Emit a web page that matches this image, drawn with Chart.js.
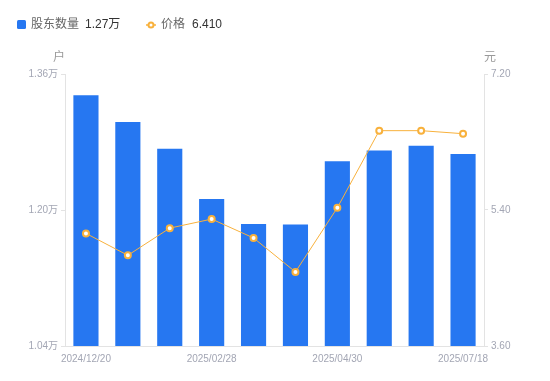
<!DOCTYPE html>
<html>
<head>
<meta charset="utf-8">
<script src="https://cdn.jsdelivr.net/npm/chart.js@4"></script>
<style>
  html, body { margin: 0; padding: 0; background: #fff; }
  #wrap { width: 550px; height: 381px; }
</style>
</head>
<body>
<div id="wrap"><canvas id="chart" width="550" height="381"></canvas></div>
<script>
const labels = ["2024/12/20", "2024/12/31", "2025/01/24", "2025/02/28", "2025/03/20",
  "2025/03/31", "2025/04/30", "2025/05/30", "2025/06/30", "2025/07/18"];
const holders = [1.335, 1.3035, 1.272, 1.213, 1.1835, 1.183, 1.2575, 1.270, 1.2755, 1.266];
const prices = [5.09, 4.80, 5.16, 5.28, 5.03, 4.58, 5.43, 6.45, 6.45, 6.41];
const leftTicks = [1.04, 1.20, 1.36];
const rightTicks = [3.60, 5.40, 7.20];

const FONT = "'Liberation Sans', 'Noto Sans CJK SC', sans-serif";
const barColor = "#2677f1";
const lineColor = "#f8b13c";
const tickColor = "#a3a6b4";
const axisColor = "#e3e3e3";

const ctx = document.querySelector("#chart").getContext("2d");

// legend + axis units drawn by hand
const extras = {
  id: "extras",
  afterDraw(chart) {
    const c = chart.ctx;
    c.save();
    c.textBaseline = "middle";
    c.font = "12px " + FONT;
    // bar legend
    c.fillStyle = barColor;
    c.beginPath();
    c.roundRect(17, 20, 9, 9, 1.5);
    c.fill();
    c.fillStyle = "#666";
    c.fillText("股东数量", 31, 25);
    c.fillStyle = "#333";
    c.fillText(holders[holders.length - 1].toFixed(2) + "万", 85, 25);
    // line legend
    c.strokeStyle = lineColor;
    c.lineWidth = 1.5;
    c.beginPath();
    c.moveTo(146, 25);
    c.lineTo(156, 25);
    c.stroke();
    c.fillStyle = "#fff";
    c.lineWidth = 2;
    c.beginPath();
    c.arc(151, 25, 2.5, 0, Math.PI * 2);
    c.fill();
    c.stroke();
    c.fillStyle = "#666";
    c.fillText("价格", 161, 25);
    c.fillStyle = "#333";
    c.fillText(prices[prices.length - 1].toFixed(3), 192, 25);
    // units
    c.fillStyle = "#999";
    c.textAlign = "center";
    c.fillText("户", chart.chartArea.left - 6, 58);
    c.fillText("元", chart.chartArea.right + 6, 58);
    c.restore();
  },
};

const config = {
  data: {
    labels: labels,
    datasets: [
      {
        type: "line",
        data: prices,
        yAxisID: "y1",
        borderColor: lineColor,
        borderWidth: 1,
        pointBackgroundColor: "#fff",
        pointBorderColor: lineColor,
        pointBorderWidth: 2,
        pointRadius: 3,
        tension: 0,
        order: 0,
      },
      {
        type: "bar",
        data: holders,
        yAxisID: "y",
        backgroundColor: barColor,
        barPercentage: 0.6,
        categoryPercentage: 1,
        order: 1,
      },
    ],
  },
  options: {
    responsive: false,
    animation: false,
    layout: { padding: { top: 74, left: 0, right: 0, bottom: 0 } },
    plugins: {
      legend: { display: false },
      tooltip: { enabled: false },
    },
    scales: {
      x: {
        grid: { display: false, drawTicks: false },
        border: { display: true, color: axisColor },
        ticks: {
          autoSkip: false,
          maxRotation: 0,
          padding: 7,
          color: tickColor,
          font: { size: 10, family: FONT },
          callback: (v, i) => (i % 3 === 0 ? labels[i] : ""),
        },
        afterFit: (scale) => { scale.height = 35; },
      },
      y: {
        position: "left",
        min: leftTicks[0],
        max: leftTicks[leftTicks.length - 1],
        afterBuildTicks: (scale) => { scale.ticks = leftTicks.map((v) => ({ value: v })); },
        grid: { drawOnChartArea: false, tickLength: 4, color: axisColor },
        border: { display: true, color: axisColor },
        ticks: {
          padding: 3,
          color: tickColor,
          font: { size: 10, family: FONT },
          callback: (v) => v.toFixed(2) + "万",
        },
        afterFit: (scale) => { scale.width = 65; },
      },
      y1: {
        position: "right",
        min: rightTicks[0],
        max: rightTicks[rightTicks.length - 1],
        afterBuildTicks: (scale) => { scale.ticks = rightTicks.map((v) => ({ value: v })); },
        grid: { drawOnChartArea: false, tickLength: 4, color: axisColor },
        border: { display: true, color: axisColor },
        ticks: {
          padding: 3,
          color: tickColor,
          font: { size: 10, family: FONT },
          callback: (v) => v.toFixed(2),
        },
        afterFit: (scale) => { scale.width = 66; },
      },
    },
  },
  plugins: [extras],
};

const chart = new Chart(ctx, config);
</script>
</body>
</html>
